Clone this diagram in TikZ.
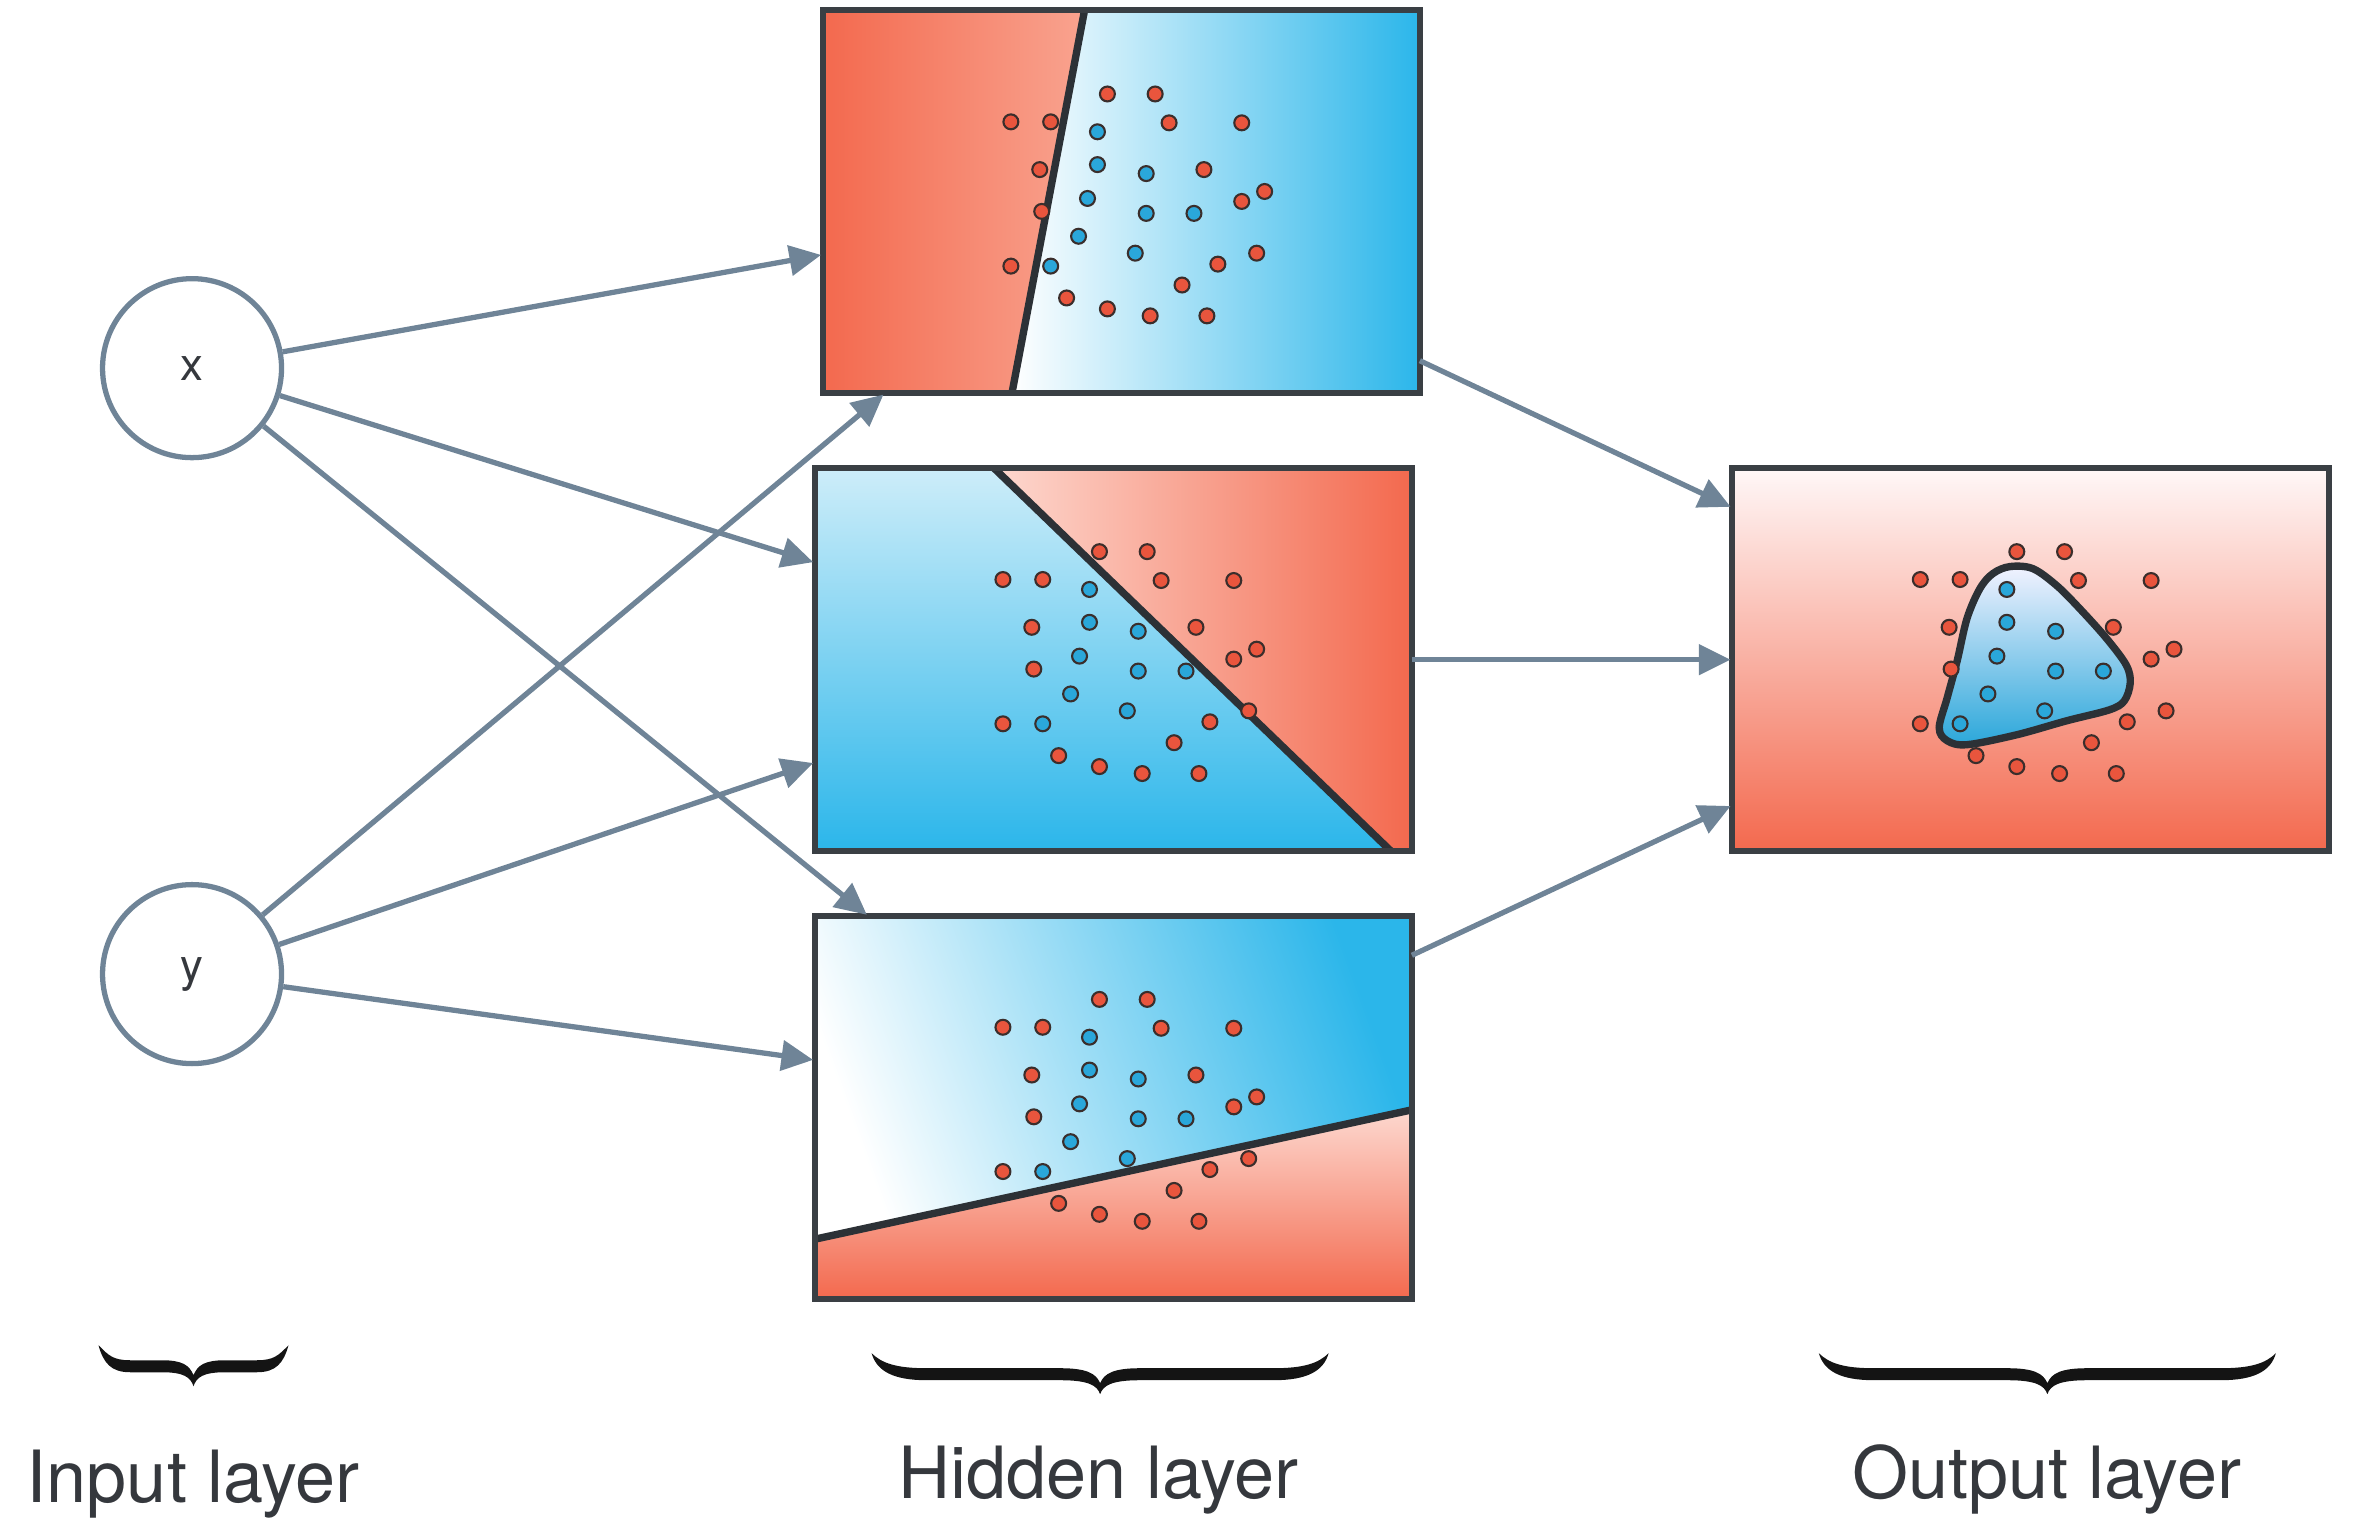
\documentclass[tikz,border=0pt]{standalone}
\usepackage{fontspec}
\setmainfont{TeX Gyre Heros}
\usepackage{tikz}
\usetikzlibrary{arrows.meta}
\definecolor{linkgray}{HTML}{6F8497}
\definecolor{framegray}{HTML}{3A3F44}
\definecolor{cutgray}{HTML}{2C3136}
\definecolor{textgray}{HTML}{35383D}
\definecolor{hotred}{HTML}{F3694E}
\definecolor{salmon}{HTML}{F9A38F}
\definecolor{palered}{HTML}{FDD8CF}
\definecolor{coolblue}{HTML}{2BB6EA}
\definecolor{paleblue}{HTML}{CDEDF9}
\definecolor{dotred}{HTML}{E9553D}
\definecolor{dotblue}{HTML}{2AA7DA}
\definecolor{dotrim}{HTML}{3A2E2C}
\newcommand{\reddots}{2.86/3.01, 3.34/3.01, 1.89/2.73, 2.29/2.73, 3.48/2.72, 4.21/2.72, 2.18/2.25, 3.83/2.25, 4.44/2.03, 4.21/1.93, 2.20/1.83, 4.36/1.41, 1.89/1.28, 3.97/1.30, 3.61/1.09, 2.45/0.96, 2.86/0.85, 3.29/0.78, 3.86/0.78}
\newcommand{\bluedots}{2.76/2.63, 2.76/2.30, 3.25/2.21, 2.66/1.96, 3.25/1.81, 3.73/1.81, 2.57/1.58, 3.14/1.41, 2.29/1.28}
\newcommand{\drawdots}{%
  \foreach \px/\py in \reddots {\filldraw[reddot] (\px,\py) circle (0.075);}
  \foreach \px/\py in \bluedots {\filldraw[bluedot] (\px,\py) circle (0.075);}}
\tikzset{
    neuron/.style={circle, draw=linkgray, line width=1.5pt, minimum size=1.79cm, inner sep=0pt, font=\fontsize{13}{15}\selectfont, text=textgray},
    panel/.style={rectangle, minimum width=5.97cm, minimum height=3.83cm, inner sep=0pt, outer sep=0pt},
    panelframe/.style={draw=framegray, line width=1.7pt},
    decision/.style={draw=cutgray, line width=2.1pt},
    link/.style={draw=linkgray, line width=1.5pt, -{Triangle[length=9pt,width=8.5pt]}, shorten >=0.5pt},
    reddot/.style={fill=dotred, draw=dotrim, line width=0.6pt},
    bluedot/.style={fill=dotblue, draw=dotrim, line width=0.6pt},
    layerlabel/.style={anchor=base, font=\fontsize{20.5}{24}\selectfont, text=textgray},
    layer brace/.pic={
        \pgfmathsetmacro\hw{#1/2}
        \pgfmathsetmacro\ew{min(0.55,#1/6)}
        \pgfmathsetmacro\mw{min(0.4,#1/6)}
        \fill[black!92] (0,0) .. controls (0.05,-0.18) and (0.4*\ew,-0.27) .. (\ew,-0.27)
            -- (\hw-\mw,-0.27) .. controls (\hw-0.3*\mw,-0.27) and (\hw-0.03,-0.32) .. (\hw,-0.41)
            .. controls (\hw+0.03,-0.32) and (\hw+0.3*\mw,-0.27) .. (\hw+\mw,-0.27)
            -- (#1-\ew,-0.27) .. controls (#1-0.4*\ew,-0.27) and (#1-0.05,-0.18) .. (#1,0)
            .. controls (#1-0.1,-0.1) and (#1-0.45*\ew,-0.15) .. (#1-\ew,-0.15)
            -- (\hw+\mw,-0.15) .. controls (\hw+0.35*\mw,-0.15) and (\hw+0.04,-0.2) .. (\hw,-0.30)
            .. controls (\hw-0.04,-0.2) and (\hw-0.35*\mw,-0.15) .. (\hw-\mw,-0.15)
            -- (\ew,-0.15) .. controls (0.45*\ew,-0.15) and (0.1,-0.1) .. (0,0) -- cycle;
    },
}
\begin{document}
\begin{tikzpicture}
    \useasboundingbox (0,0) rectangle (23.76,-15.24);
    \begin{scope}[scale=0.995]

    % input layer
    \node[neuron] (x) at (1.93,-3.70) {x};
    \node[neuron] (y) at (1.93,-9.79) {y};

    % hidden layer
    \node[panel] (h1) at (11.27,-2.03) {};
    \begin{scope}[shift={(h1.south west)}]
        \fill[left color=hotred, right color=salmon] (0,0) -- (1.90,0) -- (2.63,3.85) -- (0,3.85) -- cycle;
        \fill[left color=white, right color=coolblue] (1.90,0) -- (6,0) -- (6,3.85) -- (2.63,3.85) -- cycle;
        \draw[decision] (1.90,0) -- (2.63,3.85);
        \drawdots
    \end{scope}
    \draw[panelframe] (h1.south west) rectangle (h1.north east);

    \node[panel] (h2) at (11.19,-6.63) {};
    \begin{scope}[shift={(h2.south west)}]
        \fill[top color=paleblue, bottom color=coolblue] (0,0) -- (5.79,0) -- (1.80,3.85) -- (0,3.85) -- cycle;
        \fill[left color=palered, right color=hotred] (1.80,3.85) -- (6,3.85) -- (6,0) -- (5.79,0) -- cycle;
        \draw[decision] (1.80,3.85) -- (5.79,0);
        \drawdots
    \end{scope}
    \draw[panelframe] (h2.south west) rectangle (h2.north east);

    \node[panel] (h3) at (11.19,-11.13) {};
    \begin{scope}[shift={(h3.south west)}]
        \fill[left color=white, right color=coolblue, shading angle=110] (0,0.60) -- (6,1.90) -- (6,3.85) -- (0,3.85) -- cycle;
        \fill[top color=palered, bottom color=hotred] (0,0) -- (6,0) -- (6,1.90) -- (0,0.60) -- cycle;
        \draw[decision] (0,0.60) -- (6,1.90);
        \drawdots
    \end{scope}
    \draw[panelframe] (h3.south west) rectangle (h3.north east);

    % output layer
    \node[panel] (out) at (20.41,-6.63) {};
    \begin{scope}[shift={(out.south west)}]
        \fill[top color=red!3!white, bottom color=hotred] (0,0) rectangle (6,3.85);
        \draw[decision, top color=blue!5!white, bottom color=dotblue] plot[smooth cycle, tension=0.55] coordinates
            {(2.79,2.86) (3.02,2.84) (3.26,2.67) (3.49,2.44) (3.76,2.14) (3.96,1.87) (4.00,1.69) (3.94,1.51)
             (3.79,1.42) (3.36,1.31) (2.86,1.17) (2.36,1.07) (2.16,1.11) (2.08,1.24) (2.16,1.54) (2.26,1.91)
             (2.36,2.34) (2.49,2.64) (2.62,2.79)};
        \drawdots
    \end{scope}
    \draw[panelframe] (out.south west) rectangle (out.north east);

    % connections
    \draw[link] (x) -- (h1.190);
    \draw[link] (x) -- (h2.162);
    \draw[link] (x) -- (h3.142);
    \draw[link] (y) -- (h1.219);
    \draw[link] (y) -- (h2.199);
    \draw[link] (y) -- (h3.171);
    \draw[link] (h1.-28) -- (out.153);
    \draw[link] (h2.east) -- (out.west);
    \draw[link] (h3.27) -- (out.206);

    % braces and labels
    \pic (inbrace) at (0.99,-13.52) {layer brace=1.90};
    \pic (hidbrace) at (8.76,-13.60) {layer brace=4.57};
    \pic (outbrace) at (18.28,-13.60) {layer brace=4.57};
    \node[layerlabel] (inlabel) at (1.94,-15.10) {Input layer};
    \node[layerlabel] (hidlabel) at (11.04,-15.06) {Hidden layer};
    \node[layerlabel] (outlabel) at (20.57,-15.06) {Output layer};
    \end{scope}
\end{tikzpicture}
\end{document}
